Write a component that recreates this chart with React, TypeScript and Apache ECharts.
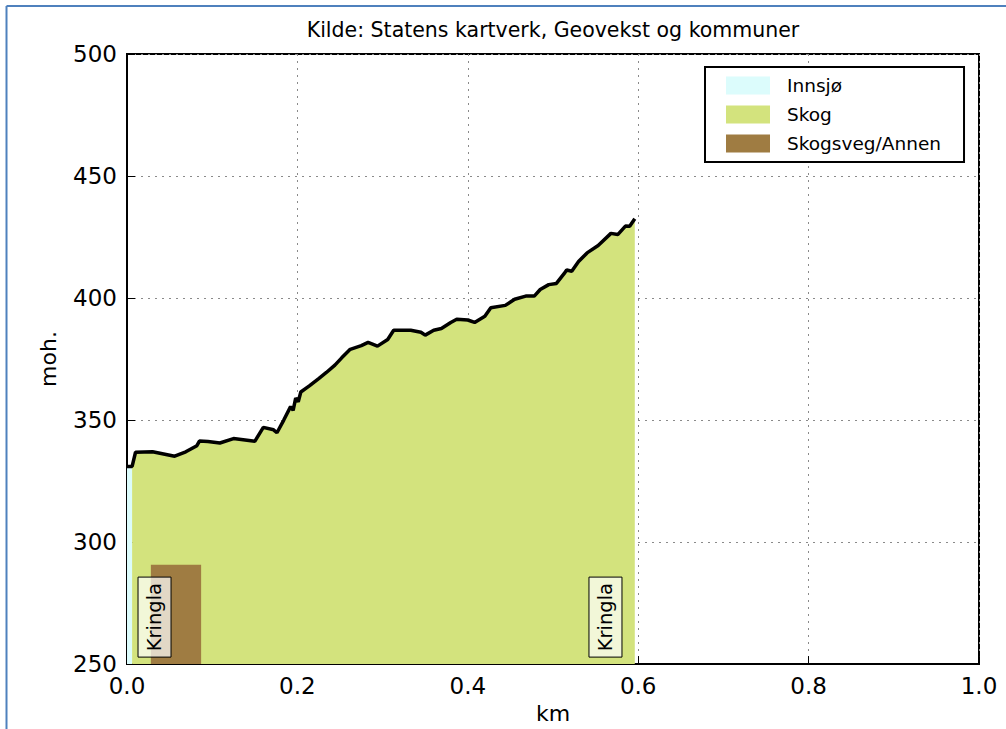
import React, { useEffect, useRef } from "react";
import * as echarts from "echarts";

const FONT = "DejaVu Sans";

// Profile: distance (km) and elevation (m a.s.l.)
const profileKm = [
  0.0, 0.006, 0.01, 0.03, 0.056, 0.069, 0.082, 0.085, 0.095, 0.109, 0.125, 0.15, 0.16, 0.172, 0.176,
  0.184, 0.192, 0.195, 0.198, 0.201, 0.204, 0.214, 0.225, 0.234, 0.244, 0.252, 0.262, 0.275, 0.283,
  0.294, 0.306, 0.313, 0.333, 0.345, 0.35, 0.36, 0.369, 0.38, 0.387, 0.4, 0.408, 0.42, 0.427, 0.444,
  0.455, 0.468, 0.478, 0.485, 0.495, 0.504, 0.513, 0.516, 0.522, 0.53, 0.54, 0.553, 0.568, 0.576,
  0.585, 0.59, 0.596,
];
const profileM = [
  331, 331, 336.8, 337, 335.2, 337, 339.5, 341.4, 341.2, 340.6, 342.4, 341.3, 347, 346, 344.8,
  350, 355.5, 354, 359, 357.5, 361.5, 364, 367, 369.5, 372.5, 375.5, 379, 380.5, 381.8,
  380.3, 383, 386.8, 386.8, 386, 384.8, 386.8, 387.5, 390, 391.3, 391, 390, 392.5, 396, 397,
  399.5, 400.8, 400.8, 403.5, 405.5, 406, 410, 411.5, 411, 415, 418.5, 421.5, 426.5, 426,
  429.5, 429.4, 432.5,
];

// Land cover zones along the profile (km ranges)
const zoneNames = ["Innsjø", "Skog"];
const zoneFrom = [0.0, 0.006];
const zoneTo = [0.006, 0.596];
const zoneColors = ["#dcfcfc", "#d3e37d"];

// Road segment (Skogsveg/Annen)
const roadName = "Skogsveg/Annen";
const roadFromKm = [0.028];
const roadToKm = [0.087];
const roadTopM = [290.7];
const roadColor = "#9f7c42";

// Place names
const placeKm = [0.0323, 0.5616];
const placeNames = ["Kringla", "Kringla"];

const xTicks = [0, 0.2, 0.4, 0.6, 0.8, 1.0];
const yTicks = [250, 300, 350, 400, 450, 500];

export default function App() {
  const ref = useRef<HTMLDivElement>(null);
  useEffect(() => {
    if (!ref.current) return;
    const chart = echarts.init(ref.current, null, { renderer: "svg" });
    const profile = profileKm.map((k, i) => [k, profileM[i]]);

    const zoneSeries = zoneNames.map((name, zi) => ({
      name,
      type: "line",
      data: profile.filter((p) => p[0] >= zoneFrom[zi] && p[0] <= zoneTo[zi]),
      symbol: "none",
      color: zoneColors[zi],
      lineStyle: { width: 0, color: zoneColors[zi] },
      areaStyle: { color: zoneColors[zi], opacity: 1, origin: "start" },
      z: 1,
      silent: true,
    }));

    const BOX_LEN = 80;
    const BOX_W = 33;

    const option: any = {
      animation: false,
      textStyle: { fontFamily: FONT },
      grid: {
        left: 127,
        right: 27,
        top: 54,
        bottom: 60,
        show: true,
        borderColor: "#000",
        borderWidth: 2,
        backgroundColor: "#fff",
      },
      legend: {
        orient: "vertical",
        left: 705,
        top: 67,
        padding: [9, 23, 9, 21],
        itemGap: 10,
        itemWidth: 44,
        itemHeight: 18,
        icon: "rect",
        borderColor: "#000",
        borderWidth: 2,
        backgroundColor: "#fff",
        textStyle: { fontSize: 18.5, color: "#000", fontFamily: FONT, padding: [0, 0, 0, 12] },
        data: [
          { name: zoneNames[0], itemStyle: { color: zoneColors[0] } },
          { name: zoneNames[1], itemStyle: { color: zoneColors[1] } },
          { name: roadName, itemStyle: { color: roadColor } },
        ],
      },
      xAxis: {
        type: "value",
        min: xTicks[0],
        max: xTicks[xTicks.length - 1],
        interval: 0.2,
        name: "km",
        nameLocation: "middle",
        nameGap: 37,
        nameTextStyle: { fontSize: 22, color: "#000", fontFamily: FONT },
        axisLine: { show: true, lineStyle: { color: "#000", width: 2 } },
        axisTick: { show: true, inside: true, length: 8, lineStyle: { color: "#000", width: 1 } },
        axisLabel: {
          fontSize: 23,
          color: "#000",
          margin: 10,
          fontFamily: FONT,
          formatter: (v: number) => v.toFixed(1),
        },
        splitLine: { show: true, lineStyle: { color: "#8a8a8a", type: [2, 5], width: 1 } },
      },
      yAxis: {
        type: "value",
        min: yTicks[0],
        max: yTicks[yTicks.length - 1],
        interval: 50,
        name: "moh.",
        nameLocation: "middle",
        nameGap: 68,
        nameTextStyle: { fontSize: 22, color: "#000", fontFamily: FONT },
        axisLine: { show: true, lineStyle: { color: "#000", width: 2 } },
        axisTick: { show: true, inside: true, length: 8, lineStyle: { color: "#000", width: 1 } },
        axisLabel: { fontSize: 23, color: "#000", margin: 10, fontFamily: FONT },
        splitLine: { show: true, lineStyle: { color: "#8a8a8a", type: [2, 5], width: 1 } },
      },
      graphic: [
        {
          type: "line",
          shape: { x1: 6.5, y1: 6, x2: 1006, y2: 6 },
          style: { stroke: "#4f81bd", lineWidth: 2 },
        },
        {
          type: "line",
          shape: { x1: 6.5, y1: 6, x2: 6.5, y2: 729 },
          style: { stroke: "#4f81bd", lineWidth: 2 },
        },
        {
          type: "text",
          x: 553,
          y: 30,
          style: {
            text: "Kilde: Statens kartverk, Geovekst og kommuner",
            fontSize: 20.5,
            fontFamily: FONT,
            fill: "#000",
            align: "center",
            verticalAlign: "middle",
          },
        },
      ],
      series: [
        ...zoneSeries,
        {
          name: roadName,
          type: "custom",
          color: roadColor,
          z: 2,
          encode: { x: [0, 1], y: 2 },
          data: roadFromKm.map((f, i) => [f, roadToKm[i], roadTopM[i]]),
          renderItem: (params: any, api: any) => {
            const p1 = api.coord([api.value(0), api.value(2)]);
            const p2 = api.coord([api.value(1), yTicks[0]]);
            return {
              type: "rect",
              shape: { x: p1[0], y: p1[1], width: p2[0] - p1[0], height: p2[1] - p1[1] },
              style: { fill: roadColor },
            };
          },
        },
        {
          name: "profil",
          type: "line",
          data: profile,
          symbol: "none",
          z: 3,
          lineStyle: { color: "#000", width: 3.5 },
          silent: true,
        },
        {
          name: "steder",
          type: "custom",
          z: 4,
          data: placeKm.map((k) => [k, yTicks[0]]),
          renderItem: (params: any, api: any) => {
            const c = api.coord([api.value(0), api.value(1)]);
            return {
              type: "group",
              x: c[0],
              y: c[1] - 7,
              rotation: Math.PI / 2,
              children: [
                {
                  type: "rect",
                  shape: { x: 0, y: -BOX_W / 2, width: BOX_LEN, height: BOX_W },
                  style: { fill: "rgba(255,255,255,0.7)", stroke: "#000", lineWidth: 1 },
                },
                {
                  type: "text",
                  x: BOX_LEN / 2,
                  y: 0,
                  style: {
                    text: placeNames[params.dataIndex],
                    fontSize: 19.5,
                    fontFamily: FONT,
                    fill: "#000",
                    align: "center",
                    verticalAlign: "middle",
                  },
                },
              ],
            };
          },
        },
      ],
    };
    chart.setOption(option);
    return () => chart.dispose();
  }, []);
  return (
    <div
      ref={ref}
      style={{ position: "absolute", left: 0, top: 0, width: 1006, height: 729, background: "#fff" }}
    />
  );
}
